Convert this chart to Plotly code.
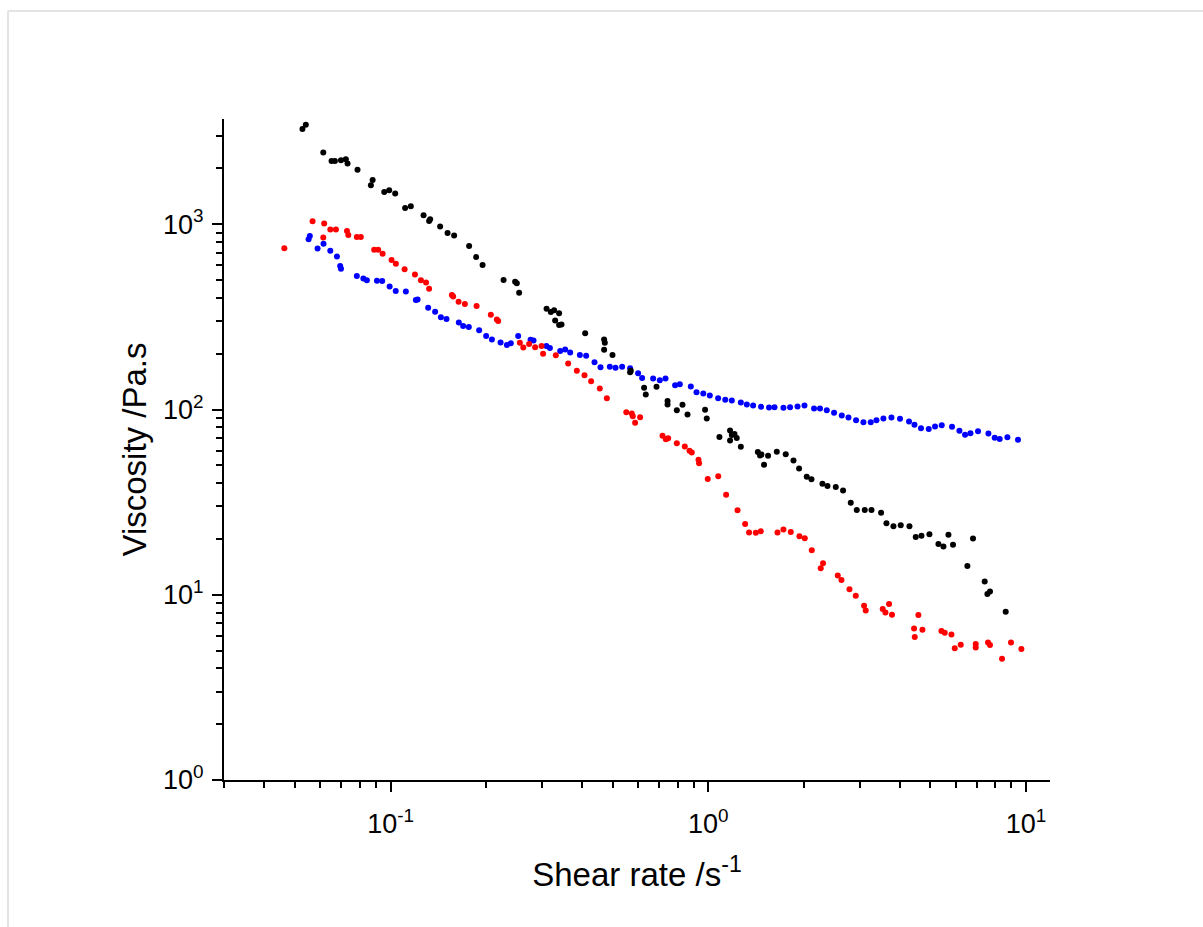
import plotly.graph_objects as go
import numpy as np

# ---------------- data ----------------
black_x = [0.0528, 0.0541, 0.0614, 0.0652, 0.0668, 0.0698, 0.0723, 0.0732, 0.0787, 0.0878,
           0.0867, 0.0955, 0.0990, 0.1034, 0.1111, 0.1158, 0.1270, 0.1322, 0.1332, 0.1432,
           0.1511, 0.1585, 0.1767, 0.1859, 0.1948, 0.2268, 0.2466, 0.2496, 0.2539, 0.3097,
           0.3194, 0.3271, 0.3392, 0.3296, 0.3392, 0.3452, 0.4097, 0.470, 0.4724, 0.470,
           0.4994, 0.5703, 0.5675, 0.628, 0.6357, 0.6871, 0.7443, 0.7443, 0.7961, 0.8295,
           0.8602, 0.977, 0.989, 1.084, 1.171, 1.186, 1.209, 1.229, 1.171, 1.266,
           1.432, 1.455, 1.470, 1.498, 1.542, 1.643, 1.753, 1.854, 1.931, 2.041,
           2.112, 2.287, 2.372, 2.519, 2.656, 2.808, 2.933, 3.108, 3.263, 3.498,
           3.637, 3.826, 4.034, 4.297, 4.497, 4.688, 4.966, 5.301, 5.497, 5.700,
           5.893, 6.539, 6.810, 7.413, 7.559, 7.703, 8.632]
black_y = [3266, 3443, 2443, 2198, 2198, 2218, 2246, 2129, 1966, 1736,
           1625, 1495, 1527, 1465, 1225, 1250, 1119, 1042, 1064, 972,
           897, 869, 763, 666, 603, 500, 490, 480, 427, 350,
           336, 343, 331, 302, 286, 288, 258, 239, 229, 210,
           197, 162, 159, 131, 120.5, 132.7, 111.2, 106.4, 99.1, 106.2,
           94.0, 99.6, 89.4, 71.0, 77.0, 72.8, 73.7, 70.1, 68.0, 62.9,
           58.9, 56.4, 57.1, 50.4, 56.2, 59.1, 57.3, 53.0, 48.0, 43.4,
           42.0, 39.7, 38.7, 38.2, 36.5, 31.4, 28.7, 28.7, 28.7, 27.7,
           24.3, 23.4, 23.7, 23.4, 20.5, 20.8, 21.2, 18.8, 18.2, 21.1,
           18.6, 14.3, 20.1, 11.8, 10.1, 10.4, 8.09]

blue_x = [0.0552, 0.0557, 0.0589, 0.0615, 0.0646, 0.0678, 0.0694, 0.0698, 0.0783, 0.0821,
          0.0842, 0.0906, 0.0941, 0.0993, 0.1038, 0.1117, 0.1201, 0.1216, 0.1313, 0.1381,
          0.144, 0.150, 0.164, 0.1692, 0.1763, 0.190, 0.1999, 0.2084, 0.2219, 0.2323,
          0.239, 0.2521, 0.2758, 0.2818, 0.3093, 0.3173, 0.3418, 0.3544, 0.3675, 0.3942,
          0.4126, 0.4384, 0.4579, 0.4898, 0.5105, 0.5356, 0.5675, 0.6013, 0.619, 0.6704,
          0.7037, 0.7333, 0.7863, 0.8136, 0.8811, 0.9181, 0.9644, 1.011, 1.074, 1.131,
          1.186, 1.266, 1.322, 1.384, 1.466, 1.553, 1.616, 1.724, 1.809, 1.909,
          2.008, 2.152, 2.247, 2.36, 2.488, 2.631, 2.762, 2.918, 3.078, 3.246,
          3.383, 3.558, 3.771, 4.013, 4.284, 4.456, 4.673, 4.941, 5.172, 5.429,
          5.85, 6.172, 6.429, 6.686, 7.063, 7.615, 7.97, 8.264, 8.739, 9.436]
blue_y = [830, 865, 739, 785, 719, 670, 595, 576, 525, 509,
          498, 495, 494, 462, 436, 433, 390, 393, 354, 337,
          315, 308, 295, 282, 279, 268, 249, 239, 230, 223,
          228, 249, 238, 236, 220, 215, 207, 211, 203, 197,
          195, 180, 169, 170, 168, 170, 167, 157, 148, 147,
          144, 147, 135, 137, 133, 124, 122, 119, 115, 113,
          112, 109, 106.4, 105.1, 103.4, 102.5, 102.8, 102.1, 102.9, 103.8,
          105.1, 101.3, 101.3, 99.1, 96.0, 92.8, 90.5, 87.5, 85.4, 85.4,
          87.5, 89.4, 90.5, 89.1, 86.1, 82.7, 79.2, 78.6, 80.9, 82.3,
          80.6, 76.7, 73.0, 74.4, 76.3, 74.2, 70.3, 69.4, 70.8, 68.6]

red_x = [0.0463, 0.0568, 0.0618, 0.0614, 0.0646, 0.0673, 0.0729, 0.0736, 0.0783, 0.0806,
         0.0888, 0.0914, 0.0944, 0.1007, 0.1039, 0.1107, 0.1193, 0.1246, 0.1293, 0.1322,
         0.1559, 0.1574, 0.1637, 0.1713, 0.1865, 0.2068, 0.216, 0.2181, 0.2552, 0.2617,
         0.2729, 0.2851, 0.2987, 0.302, 0.3312, 0.3622, 0.3857, 0.4078, 0.4278, 0.4555,
         0.4795, 0.552, 0.5744, 0.5786, 0.6101, 0.5884, 0.7176, 0.7352, 0.7475, 0.7961,
         0.8434, 0.8727, 0.8873, 0.9315, 0.9355, 0.996, 1.075, 1.138, 1.236, 1.306,
         1.344, 1.411, 1.463, 1.651, 1.724, 1.818, 1.936, 2.012, 2.117, 2.297,
         2.259, 2.556, 2.625, 2.782, 2.912, 3.093, 3.13, 3.54, 3.611, 3.707,
         3.787, 4.443, 4.465, 4.585, 4.721, 5.418, 5.549, 5.826, 5.967, 6.231,
         6.946, 6.946, 7.593, 7.703, 8.404, 8.97, 9.672]
red_y = [742, 1038, 1009, 848, 937, 936, 919, 874, 854, 854,
         728, 728, 694, 641, 613, 571, 535, 498, 485, 449,
         415, 407, 382, 371, 362, 325, 306, 300, 229, 216,
         226, 217, 220, 200, 196, 177, 162, 153, 142, 130,
         115, 96.7, 95.1, 91.9, 90.9, 84.8, 72.1, 69.1, 70.0, 65.7,
         63.1, 59.8, 58.6, 53.5, 51.3, 42.1, 43.6, 34.7, 28.6, 24.1,
         21.7, 21.6, 22.0, 21.7, 22.5, 21.8, 20.7, 20.2, 17.4, 14.8,
         13.9, 12.7, 12.0, 10.7, 9.88, 8.72, 8.23, 8.37, 8.02, 8.91,
         7.80, 6.57, 5.91, 7.77, 6.47, 6.37, 6.23, 6.10, 5.15, 5.37,
         5.43, 5.19, 5.52, 5.35, 4.51, 5.52, 5.09]

x_tick_vals = [0.1, 1, 10]
x_tick_text = ["10<sup>-1</sup>", "10<sup>0</sup>", "10<sup>1</sup>"]
y_tick_vals = [1, 10, 100, 1000]
y_tick_text = ["10<sup>0</sup>", "10<sup>1</sup>", "10<sup>2</sup>", "10<sup>3</sup>"]

x_title = "Shear rate /s<sup>-1</sup>"
y_title = "Viscosity /Pa.s"

# ---------------- figure ----------------
FONT = "Liberation Sans, Arial, sans-serif"

fig = go.Figure()
for xs, ys, col in [(blue_x, blue_y, "#0000ff"),
                    (red_x, red_y, "#ff0000"),
                    (black_x, black_y, "#000000")]:
    fig.add_trace(go.Scatter(x=xs, y=ys, mode="markers",
                             marker=dict(color=col, size=6, line=dict(width=0)),
                             showlegend=False, hoverinfo="x+y"))

minor_x = [k * 10.0 ** e for e in (-2, -1, 0, 1) for k in range(2, 10)]
minor_y = [k * 10.0 ** e for e in (0, 1, 2, 3) for k in range(2, 10)]

axis_common = dict(showgrid=False, zeroline=False, showline=True, linecolor="black",
                   linewidth=2, ticks="outside", ticklen=10, tickwidth=2, tickcolor="black",
                   tickfont=dict(family=FONT, size=27, color="black"), mirror=False)

fig.update_xaxes(type="log", range=[np.log10(0.0299), np.log10(11.9)],
                 tickmode="array", tickvals=x_tick_vals, ticktext=x_tick_text,
                 ticklabelstandoff=9,
                 minor=dict(ticks="outside", ticklen=6, tickwidth=2, tickcolor="black",
                            tickmode="array", tickvals=minor_x, showgrid=False),
                 title=dict(text=x_title, font=dict(family=FONT, size=33, color="black"),
                            standoff=24),
                 **axis_common)
fig.update_yaxes(type="log", range=[0, np.log10(3700)],
                 tickmode="array", tickvals=y_tick_vals, ticktext=y_tick_text,
                 ticklabelstandoff=3,
                 minor=dict(ticks="outside", ticklen=6, tickwidth=2, tickcolor="black",
                            tickmode="array", tickvals=minor_y, showgrid=False),
                 title=dict(text=y_title, font=dict(family=FONT, size=33, color="black"),
                            standoff=6),
                 **axis_common)

W, H = 1203, 927
L, R, T, B = 224, 153, 119, 147
pw, ph = W - L - R, H - T - B


def px_to_paper(px, py):
    return (px - L) / pw, (H - B - py) / ph


x0, y0 = px_to_paper(8, 11)
x1, _ = px_to_paper(W + 5, 11)
_, y1 = px_to_paper(8, H + 5)
fig.add_shape(type="line", xref="paper", yref="paper", x0=x0, y0=y0, x1=x1, y1=y0,
              line=dict(color="#e4e4e4", width=2))
fig.add_shape(type="line", xref="paper", yref="paper", x0=x0, y0=y0, x1=x0, y1=y1,
              line=dict(color="#e4e4e4", width=2))

fig.update_layout(width=W, height=H, margin=dict(l=L, r=R, t=T, b=B),
                  paper_bgcolor="white", plot_bgcolor="white",
                  font=dict(family=FONT, color="black"))

fig.write_html("out.html")
